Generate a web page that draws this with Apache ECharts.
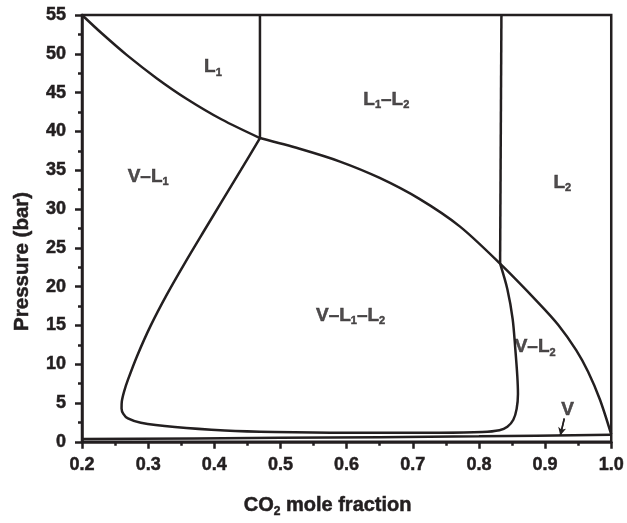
<!DOCTYPE html>
<html>
<head>
<meta charset="utf-8">
<script src="https://cdn.jsdelivr.net/npm/echarts@6/dist/echarts.min.js"></script>
<style>
  html, body { margin: 0; padding: 0; background: #fff; }
  #chart { width: 627px; height: 523px; }
</style>
</head>
<body>
<div id="chart"></div>
<script>
// boundary curves as [CO2 mole fraction, pressure bar]
var l1Bubble = [[0.2, 55], [0.2302, 52.61], [0.2679, 49.83], [0.3132, 46.83], [0.3585, 44.18], [0.4113, 41.53], [0.469, 39.14]];
var l1Vertical = [[0.469, 39.14], [0.469, 55]];
var l2Vertical = [[0.832, 22.95], [0.834, 55]];
var upperCurve = [[0.469, 39.14], [0.529, 37.76], [0.589, 36.14], [0.650, 34.0], [0.710, 31.3], [0.771, 27.76], [0.832, 22.95],
  [0.891, 17.81], [0.92, 15.05], [0.947, 11.81], [0.965, 9.02], [0.983, 5.42], [1.0, 0.95]];
var threePhaseLoop = [[0.469, 39.14], [0.440, 35.0], [0.4116, 31.0], [0.3832, 27.0], [0.3552, 23.0], [0.3284, 19.0],
  [0.304, 15.0], [0.283, 11.0], [0.2695, 8.0], [0.2637, 6.5], [0.2602, 5.2], [0.2598, 4.3], [0.2625, 3.6], [0.2694, 3.0],
  [0.289, 2.44], [0.3404, 1.89], [0.4158, 1.45], [0.4913, 1.25], [0.60, 1.15], [0.740, 1.16], [0.805, 1.25],
  [0.831, 1.48], [0.843, 1.93], [0.852, 2.83], [0.857, 4.24], [0.859, 6.17], [0.858, 8.48], [0.855, 11.95],
  [0.851, 15.81], [0.843, 19.66], [0.832, 22.95]];
var dewLine = [[0.2, 0.35], [0.5, 0.5], [0.8, 0.7], [1.0, 0.9]];

// region names
var regionLabels = [[0.398, 48.3, 'L1'], [0.66, 44.1, 'L1–L2'], [0.30, 34.2, 'V–L1'], [0.926, 33.4, 'L2'],
  [0.606, 16.3, 'V–L1–L2'], [0.885, 12.2, 'V–L2'], [0.934, 4.1, 'V']];
var vArrow = [[0.929, 3.0], [0.923, 0.8]];

var xTicks = [0.2, 0.3, 0.4, 0.5, 0.6, 0.7, 0.8, 0.9, 1.0];
var yTicks = [0, 5, 10, 15, 20, 25, 30, 35, 40, 45, 50, 55];

var ink = '#231f20';
var font = 'Liberation Sans, Arial, sans-serif';
var thick = { textBorderColor: ink, textBorderWidth: 0.5 };

// digits become subscripts
function sub(t) {
  return t.replace(/(\D+)/g, '{m|$1}').replace(/(\d)/g, '{s|$1}');
}
var richText = {
  m: Object.assign({ fontSize: 19, fontWeight: 'bold', color: ink, fontFamily: font, lineHeight: 22 }, thick),
  s: Object.assign({ fontSize: 11, fontWeight: 'bold', color: ink, fontFamily: font, lineHeight: 11, padding: [11, 0, 0, 0] }, thick)
};

function curve(d, smooth) {
  return {
    type: 'line', data: d, showSymbol: false, smooth: smooth, silent: true,
    lineStyle: { color: ink, width: 2.5 }
  };
}

var myChart = echarts.init(document.getElementById('chart'));
var option = {
  animation: false,
  grid: {
    left: 82, right: 15, top: 15, bottom: 80,
    show: true, borderColor: ink, borderWidth: 2.5
  },
  xAxis: {
    type: 'value', min: xTicks[0], max: xTicks[xTicks.length - 1], interval: 0.1,
    name: '{m|CO}{s|2}{m| mole fraction}',
    nameLocation: 'middle', nameGap: 52,
    nameTextStyle: {
      padding: [0, 38, 0, 0],
      rich: {
        m: Object.assign({ fontSize: 20, fontWeight: 'bold', color: ink, fontFamily: font, lineHeight: 24 }, thick),
        s: Object.assign({ fontSize: 12, fontWeight: 'bold', color: ink, fontFamily: font, lineHeight: 12, padding: [12, 0, 0, 0] }, thick)
      }
    },
    axisLine: { lineStyle: { color: ink, width: 2.5 } },
    axisTick: { length: 7, lineStyle: { color: ink, width: 2.5 } },
    minorTick: { show: true, splitNumber: 2, length: 4, lineStyle: { color: ink, width: 2.5 } },
    splitLine: { show: false },
    axisLabel: Object.assign({
      margin: 14, fontSize: 18, fontWeight: 'bold', color: ink, fontFamily: font,
      formatter: function (v) { return v.toFixed(1); }
    }, thick)
  },
  yAxis: {
    type: 'value', min: yTicks[0], max: yTicks[yTicks.length - 1], interval: 5,
    name: 'Pressure (bar)',
    nameLocation: 'middle', nameGap: 49,
    nameTextStyle: Object.assign({ fontSize: 20.5, fontWeight: 'bold', color: ink, fontFamily: font, padding: [0, 66, 0, 0] }, thick),
    axisLine: { lineStyle: { color: ink, width: 2.5 } },
    axisTick: { length: 7, lineStyle: { color: ink, width: 2.5 } },
    minorTick: { show: true, splitNumber: 2, length: 4, lineStyle: { color: ink, width: 2.5 } },
    splitLine: { show: false },
    axisLabel: Object.assign({ margin: 16, fontSize: 18, fontWeight: 'bold', color: ink, fontFamily: font }, thick)
  },
  series: [
    curve(l1Bubble, 0.3),
    curve(l1Vertical, false),
    curve(l2Vertical, false),
    curve(upperCurve, 0.3),
    curve(threePhaseLoop, 0.3),
    curve(dewLine, 0.3),
    {
      type: 'line', data: vArrow, showSymbol: false, silent: true,
      lineStyle: { color: ink, width: 1.5 },
      markLine: {
        silent: true, symbol: ['none', 'arrow'], symbolSize: [6, 8],
        label: { show: false },
        lineStyle: { color: ink, width: 1.5, type: 'solid' },
        data: [[{ coord: vArrow[0] }, { coord: vArrow[1] }]]
      }
    },
    {
      type: 'scatter', data: regionLabels, symbolSize: 0, silent: true,
      label: {
        show: true, position: 'inside',
        formatter: function (p) { return sub(p.value[2]); },
        rich: richText
      }
    }
  ]
};
myChart.setOption(option);
</script>
</body>
</html>
